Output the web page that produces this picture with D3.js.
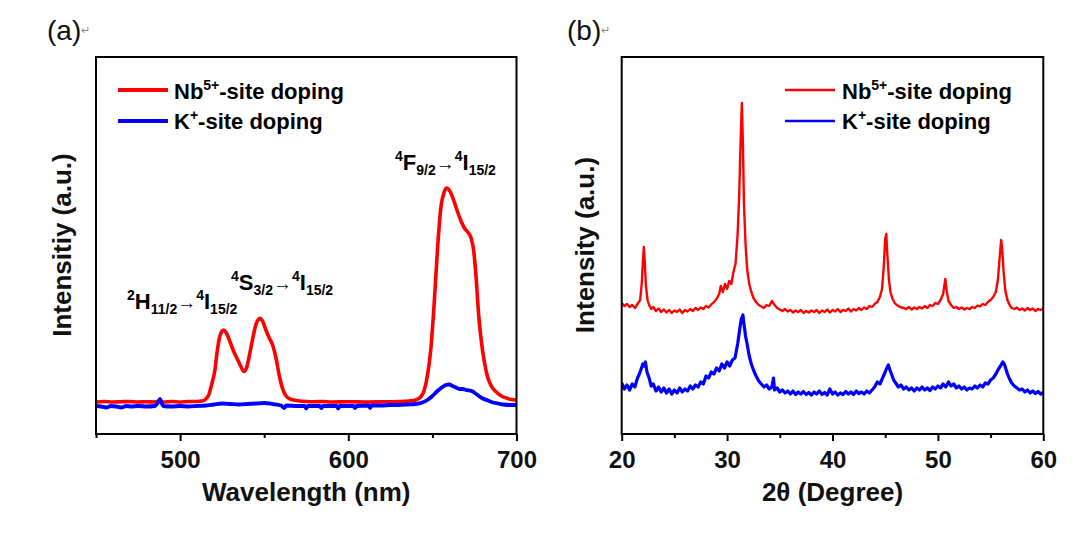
<!DOCTYPE html>
<html>
<head>
<meta charset="utf-8">
<script src="https://cdn.jsdelivr.net/npm/d3@7"></script>
<style>
  html, body { margin: 0; padding: 0; background: #fff; }
  svg { display: block; }
</style>
</head>
<body>
<svg id="chart" width="1090" height="533"></svg>
<script>
// ---------------- DATA ----------------
const seriesNames = ["Nb5+-site doping", "K+-site doping"];
const seriesColors = ["#ff0000", "#0000ff"];

// (a) PL spectra : [wavelength nm, intensity a.u.]
const plNb = [[450,320],[455,325],[460,320],[465,322],[470,325],[475,320],[480,322],[485,320],[488,330],[490,320],
 [495,325],[500,320],[505,325],[510,325],[513,330],[515,345],[517,390],[519,510],[520.7,640],[522,820],[523.5,970],
 [525,1030],[526,1040],[527.5,1010],[529.5,930],[531.5,840],[534,750],[536,680],[538,625],[539.5,660],[541,770],
 [543,940],[545,1090],[546.5,1145],[547.5,1157],[549,1130],[551,1040],[553,960],[555,890],[557,760],[559,580],
 [561,450],[563,380],[566,345],[570,333],[575,325],[580,322],[585,325],[590,320],[600,322],[610,320],[620,322],
 [630,325],[636,330],[640,340],[643,370],[645,430],[647,580],[649,840],[651,1290],[653,1840],[655,2260],[657,2420],
 [658.5,2460],[660,2440],[661.5,2390],[663,2320],[665,2220],[667,2130],[669,2060],[671,2020],[673,1960],[674.5,1840],
 [676,1560],[677.5,1190],[679,940],[681,710],[683,560],[685,480],[688,420],[691,380],[694,360],[697,345],[700,340]];

const plK = [[450,280],[453,275],[456,265],[459,280],[462,275],[465,265],[468,280],[471,275],[475,280],[480,275],
 [485,280],[487,320],[488,350],[489,310],[490,280],[495,275],[500,280],[505,275],[510,280],[515,285],[520,295],
 [525,305],[530,300],[535,295],[540,300],[545,305],[550,310],[555,300],[560,285],[562,260],[563,285],[570,280],
 [574,280],[575,255],[576,280],[583,280],[584,260],[585,280],[593,280],[594,255],[595,280],[603,280],[604,260],
 [605,280],[612,285],[613,260],[614,285],[620,285],[625,290],[630,290],[635,295],[640,300],[644,315],[647,340],
 [650,380],[653,430],[656,470],[658,490],[660,495],[662,480],[664,465],[666,450],[668,450],[670,440],[672,435],
 [674,425],[676,400],[678,375],[680,355],[683,335],[686,315],[689,305],[692,295],[696,290],[700,290]];

// (b) XRD patterns : [2theta deg, intensity a.u.]
const xrdNb = [[20,1310],[20.25,1280],[20.5,1300],[20.75,1270],[21,1290],[21.25,1260],[21.5,1300],[21.75,1340],
 [21.9,1500],[22,1700],[22.1,1870],[22.2,1700],[22.3,1480],[22.45,1340],[22.6,1290],[22.8,1250],[23,1270],
 [23.25,1230],[23.5,1255],[23.75,1220],[24,1245],[24.25,1215],[24.5,1240],[24.75,1210],[25,1235],[25.25,1220],
 [25.5,1245],[25.75,1210],[26,1240],[26.25,1225],[26.5,1250],[26.75,1230],[27,1260],[27.25,1240],[27.5,1265],
 [27.75,1250],[28,1280],[28.25,1265],[28.5,1295],[28.75,1320],[29,1350],[29.25,1400],[29.4,1480],[29.6,1420],
 [29.8,1500],[30,1450],[30.2,1530],[30.4,1500],[30.6,1620],[30.8,1700],[31,2000],[31.15,2400],[31.3,3000],
 [31.4,3310],[31.5,2900],[31.6,2300],[31.75,1900],[31.9,1650],[32.1,1500],[32.3,1420],[32.5,1360],[32.75,1320],
 [33,1290],[33.25,1275],[33.5,1260],[33.75,1290],[34,1280],[34.25,1330],[34.5,1290],[34.75,1260],[35,1245],
 [35.25,1230],[35.5,1250],[35.75,1225],[36,1240],[36.25,1215],[36.5,1235],[36.75,1220],[37,1240],[37.25,1210],
 [37.5,1230],[37.75,1215],[38,1235],[38.25,1220],[38.5,1240],[38.75,1210],[39,1235],[39.25,1220],[39.5,1245],
 [39.75,1215],[40,1240],[40.25,1225],[40.5,1250],[40.75,1220],[41,1240],[41.25,1230],[41.5,1255],[41.75,1225],
 [42,1250],[42.25,1235],[42.5,1260],[42.75,1240],[43,1265],[43.25,1250],[43.5,1280],[43.75,1270],[44,1300],
 [44.25,1320],[44.5,1370],[44.7,1450],[44.85,1650],[45,1950],[45.1,2000],[45.2,1800],[45.35,1550],[45.5,1420],
 [45.7,1350],[45.9,1310],[46.1,1290],[46.4,1270],[46.75,1260],[47,1250],[47.25,1270],[47.5,1245],[47.75,1265],
 [48,1250],[48.25,1270],[48.5,1255],[48.75,1280],[49,1260],[49.25,1290],[49.5,1280],[49.75,1310],[50,1300],
 [50.25,1340],[50.5,1400],[50.7,1550],[50.85,1420],[51,1330],[51.25,1290],[51.5,1260],[51.75,1270],[52,1250],
 [52.25,1265],[52.5,1245],[52.75,1260],[53,1250],[53.25,1270],[53.5,1260],[53.75,1285],[54,1275],[54.25,1300],
 [54.5,1290],[54.75,1320],[55,1340],[55.25,1370],[55.5,1420],[55.7,1550],[55.85,1750],[56,1940],[56.1,1850],
 [56.25,1600],[56.4,1430],[56.6,1340],[56.8,1290],[57,1260],[57.25,1250],[57.5,1265],[57.75,1240],[58,1255],
 [58.25,1235],[58.5,1260],[58.75,1240],[59,1255],[59.25,1230],[59.5,1250],[59.75,1240],[60,1255]];

const xrdK = [[20,510],[20.25,450],[20.5,490],[20.75,440],[21,500],[21.25,470],[21.5,560],[21.75,620],[22,700],
 [22.1,680],[22.25,720],[22.4,620],[22.6,560],[22.8,480],[23,500],[23.25,430],[23.5,470],[23.75,420],[24,460],
 [24.25,410],[24.5,450],[24.75,400],[25,440],[25.25,410],[25.5,460],[25.75,420],[26,450],[26.25,430],[26.5,480],
 [26.75,450],[27,490],[27.25,470],[27.5,520],[27.75,500],[28,580],[28.25,560],[28.5,620],[28.75,600],[29,660],
 [29.25,630],[29.5,700],[29.75,660],[30,720],[30.25,680],[30.5,740],[30.75,760],[31,900],[31.2,1050],[31.35,1150],
 [31.5,1190],[31.6,1100],[31.75,980],[31.9,900],[32.1,780],[32.3,700],[32.5,640],[32.75,580],[33,530],[33.25,500],
 [33.5,470],[33.75,490],[34,450],[34.25,470],[34.4,560],[34.5,440],[34.75,460],[35,420],[35.25,440],[35.5,410],
 [35.75,430],[36,400],[36.25,430],[36.5,395],[36.75,420],[37,400],[37.25,425],[37.5,395],[37.75,415],[38,390],
 [38.25,420],[38.5,400],[38.75,430],[39,395],[39.25,415],[39.5,390],[39.75,450],[40,400],[40.25,420],[40.5,390],
 [40.75,410],[41,395],[41.25,425],[41.5,400],[41.75,420],[42,395],[42.25,430],[42.5,405],[42.75,420],[43,400],
 [43.25,430],[43.5,410],[43.75,440],[44,470],[44.25,520],[44.5,500],[44.75,560],[45,620],[45.15,660],[45.3,690],
 [45.45,640],[45.6,600],[45.8,540],[46,510],[46.25,470],[46.5,490],[46.75,450],[47,470],[47.25,440],[47.5,460],
 [47.75,430],[48,460],[48.25,440],[48.5,470],[48.75,440],[49,460],[49.25,435],[49.5,470],[49.75,450],[50,480],
 [50.25,460],[50.5,500],[50.75,470],[51,520],[51.25,480],[51.5,500],[51.75,460],[52,480],[52.25,450],[52.5,470],
 [52.75,440],[53,460],[53.25,450],[53.5,480],[53.75,460],[54,490],[54.25,470],[54.5,510],[54.75,500],[55,540],
 [55.25,560],[55.5,600],[55.75,650],[56,690],[56.15,720],[56.3,700],[56.45,650],[56.6,600],[56.8,550],[57,510],
 [57.25,480],[57.5,460],[57.75,440],[58,450],[58.25,420],[58.5,440],[58.75,410],[59,430],[59.25,405],[59.5,425],
 [59.75,400],[60,415]];

const plDomain = [450, 700];
const plMajorTicks = [500, 600, 700];
const plMinorTicks = [450, 550, 650];
const xrdDomain = [20, 60];
const xrdMajorTicks = [20, 30, 40, 50, 60];
const xrdMinorTicks = [25, 35, 45, 55];
const intensityDomain = [0, 3770];

// ---------------- DRAW ----------------
const FONT = "'Liberation Sans', Arial, Helvetica, sans-serif";
const svg = d3.select("#chart").style("font-family", FONT);

const plotTop = 57, plotBottom = 434;

function addRich(g, x, y, parts, anchor) {
  const t = g.append("text").attr("x", x).attr("y", y)
    .attr("font-family", FONT).attr("font-weight", "bold").attr("fill", "#000")
    .attr("text-anchor", anchor || "start");
  parts.forEach(p => {
    t.append("tspan").text(p.t).attr("font-size", p.s).attr("dy", p.dy || 0)
     .attr("font-weight", p.w || "bold");
  });
  return t;
}

function panel(opts) {
  const g = svg.append("g");
  const x = d3.scaleLinear().domain(opts.domain).range([opts.left, opts.right]);
  const y = d3.scaleLinear().domain(intensityDomain).range([plotBottom, plotTop]);

  const clipId = "clip" + opts.id;
  svg.append("clipPath").attr("id", clipId).append("rect")
    .attr("x", opts.left).attr("y", plotTop).attr("width", opts.right - opts.left).attr("height", plotBottom - plotTop);

  const line = d3.line().x(d => x(d[0])).y(d => y(d[1])).curve(opts.curve);
  opts.series.forEach((s, i) => {
    g.append("path").datum(s).attr("d", line)
      .attr("fill", "none").attr("stroke", seriesColors[i])
      .attr("stroke-width", opts.lw[i]).attr("stroke-linejoin", "round")
      .attr("clip-path", `url(#${clipId})`);
  });

  // frame
  g.append("rect").attr("x", opts.left).attr("y", plotTop)
    .attr("width", opts.right - opts.left).attr("height", plotBottom - plotTop)
    .attr("fill", "none").attr("stroke", "#000").attr("stroke-width", 2);

  // axes
  const major = d3.axisBottom(x).tickValues(opts.major).tickSize(7).tickPadding(10).tickSizeOuter(0);
  const ga = g.append("g").attr("transform", `translate(0,${plotBottom})`).call(major);
  ga.select(".domain").remove();
  ga.selectAll(".tick line").attr("stroke", "#000").attr("stroke-width", 2);
  ga.selectAll(".tick text").attr("font-family", FONT).attr("font-weight", "bold")
    .attr("font-size", 24).attr("fill", "#111");
  const minor = d3.axisBottom(x).tickValues(opts.minor).tickSize(4).tickFormat("").tickSizeOuter(0);
  const gm = g.append("g").attr("transform", `translate(0,${plotBottom})`).call(minor);
  gm.select(".domain").remove();
  gm.selectAll(".tick line").attr("stroke", "#000").attr("stroke-width", 2);

  // axis titles
  g.append("text").attr("x", (opts.left + opts.right) / 2).attr("y", 501)
    .attr("text-anchor", "middle").attr("font-weight", "bold").attr("font-size", 26)
    .attr("fill", "#111").text(opts.xTitle);
  g.append("text").attr("transform", `translate(${opts.yTitleX},245) rotate(-90)`)
    .attr("text-anchor", "middle").attr("font-weight", "bold").attr("font-size", 26)
    .attr("fill", "#111").text(opts.yTitle);

  // panel label
  const pl = g.append("text").attr("x", opts.labelX).attr("y", 40)
    .attr("font-size", 28).attr("fill", "#111");
  pl.append("tspan").text(opts.label);
  pl.append("tspan").text("\u21B5").attr("font-size", 11).attr("fill", "#888").attr("dy", -6);

  // legend
  const L = opts.legend;
  [90, 121].forEach((ly, i) => {
    g.append("line").attr("x1", L.x1).attr("x2", L.x2).attr("y1", ly).attr("y2", ly)
      .attr("stroke", seriesColors[i]).attr("stroke-width", L.lw);
  });
  addRich(g, L.tx, 99, [{t: "Nb", s: 22}, {t: "5+", s: 14, dy: -9}, {t: "-site doping", s: 22, dy: 9}]);
  addRich(g, L.tx, 129, [{t: "K", s: 22}, {t: "+", s: 14, dy: -9}, {t: "-site doping", s: 22, dy: 9}]);

  return {g, x, y};
}

const A = panel({
  id: "a", left: 96, right: 516.5, domain: plDomain, major: plMajorTicks, minor: plMinorTicks,
  series: [plNb, plK], lw: [3.6, 3.8], curve: d3.curveMonotoneX,
  xTitle: "Wavelength (nm)", yTitle: "Intensitiy (a.u.)", yTitleX: 71,
  label: "(a)", labelX: 47,
  legend: {x1: 118, x2: 168, tx: 174, lw: 4}
});

const B = panel({
  id: "b", left: 621.7, right: 1043.3, domain: xrdDomain, major: xrdMajorTicks, minor: xrdMinorTicks,
  series: [xrdNb, xrdK], lw: [2.4, 3.2], curve: d3.curveLinear,
  xTitle: "2\u03B8 (Degree)", yTitle: "Intensity (a.u.)", yTitleX: 594,
  label: "(b)", labelX: 567,
  legend: {x1: 785, x2: 835, tx: 842, lw: 2.5}
});

// transition annotations in (a)
function trans(g, xPos, yPos, upper, upperSub) {
  addRich(g, xPos, yPos, [
    {t: upper[0], s: 14, dy: -9}, {t: upper[1], s: 22, dy: 9}, {t: upperSub, s: 14, dy: 5},
    {t: "\u2192", s: 19, dy: -5, w: "normal"},
    {t: "4", s: 14, dy: -9}, {t: "I", s: 22, dy: 9}, {t: "15/2", s: 14, dy: 5}
  ]);
}
trans(A.g, 127, 309, ["2", "H"], "11/2");
trans(A.g, 231, 290, ["4", "S"], "3/2");
trans(A.g, 395, 170, ["4", "F"], "9/2");
</script>
</body>
</html>
